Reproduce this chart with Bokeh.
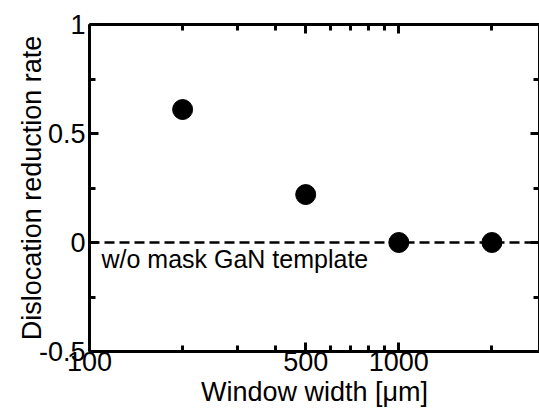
from bokeh.plotting import figure
from bokeh.models import FixedTicker, LogAxis, LinearAxis, Span, Label, Range1d
from bokeh.embed import file_html
from bokeh.resources import INLINE

# data
window_width = [200, 500, 1000, 2000]
reduction_rate = [0.61, 0.22, 0.0, 0.0]
x_major_ticks = [100, 500, 1000]
x_minor_ticks = [200, 300, 400, 600, 700, 800, 900, 2000]
x_tick_labels = {100: "100", 500: "500", 1000: "1000"}
y_major_ticks = [-0.5, 0, 0.5, 1]
y_minor_ticks = [-0.25, 0.25, 0.75]
y_tick_labels = {-0.5: "-0.5", 0: "0", 0.5: "0.5", 1: "1"}
baseline_value = 0.0
baseline_text = "w/o mask GaN template"
x_title = "Window width [\u03bcm]"
y_title = "Dislocation reduction rate"

FONT = "Liberation Sans"
FS = "27px"

p = figure(x_axis_type="log", x_range=Range1d(100, 2850), y_range=Range1d(-0.5, 1),
           width=539, height=418, output_backend="svg", toolbar_location=None,
           min_border_left=89, min_border_right=0, min_border_top=24, min_border_bottom=67)
p.outline_line_color = None
p.xgrid.grid_line_color = None
p.ygrid.grid_line_color = None
p.background_fill_color = "white"
p.border_fill_color = "white"

def style(ax, ticks, minor, labels, show):
    ax.ticker = FixedTicker(ticks=ticks, minor_ticks=minor)
    ax.axis_line_width = 3
    ax.axis_line_color = "black"
    ax.major_tick_line_width = 3
    ax.minor_tick_line_width = 3
    ax.major_tick_in = 9
    ax.major_tick_out = 0
    ax.minor_tick_in = 6
    ax.minor_tick_out = 0
    ax.major_tick_line_color = "black"
    ax.minor_tick_line_color = "black"
    if show:
        ax.major_label_overrides = labels
        ax.major_label_text_font = FONT
        ax.major_label_text_font_size = FS
        ax.major_label_text_color = "black"
        ax.axis_label_text_font = FONT
        ax.axis_label_text_font_size = FS
        ax.axis_label_text_font_style = "normal"
        ax.axis_label_text_color = "black"
    else:
        ax.major_label_text_font_size = "1px"
        ax.major_label_text_color = None
        ax.major_label_standoff = 0

style(p.xaxis[0], x_major_ticks, x_minor_ticks, x_tick_labels, True)
style(p.yaxis[0], y_major_ticks, y_minor_ticks, y_tick_labels, True)
p.xaxis[0].axis_label = x_title
p.yaxis[0].axis_label = y_title
p.xaxis[0].major_label_standoff = 0
p.xaxis[0].axis_label_standoff = 3
p.yaxis[0].major_label_standoff = 4
p.yaxis[0].axis_label_standoff = -11

top = LogAxis()
style(top, x_major_ticks, x_minor_ticks, None, False)
p.add_layout(top, "above")
right = LinearAxis()
style(right, y_major_ticks, y_minor_ticks, None, False)
p.add_layout(right, "right")

p.add_layout(Span(location=baseline_value, dimension="width", line_color="black",
                  line_width=2.5, line_dash="10 5"))

p.scatter(window_width, reduction_rate, size=20, color="black")

p.add_layout(Label(x=100, y=baseline_value, x_offset=12, y_offset=-2, text=baseline_text,
                   text_font=FONT, text_font_size="25px", text_baseline="top",
                   text_color="black"))

open("out.html", "w").write(file_html(p, INLINE))
